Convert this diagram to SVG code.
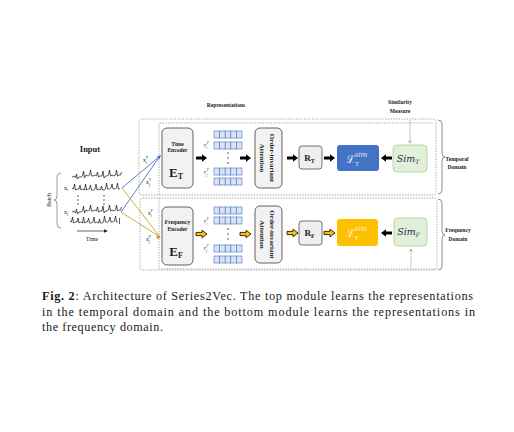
<svg xmlns="http://www.w3.org/2000/svg" width="514" height="432" viewBox="0 0 514 432">
<style>
.dom{fill:none;stroke:#9a9a9a;stroke-width:0.8;stroke-dasharray:1.5,1.2}
.box{fill:#f2f2f2;stroke:#3c3c3c;stroke-width:0.8}
.t{font-family:"Liberation Serif",serif;fill:#222}
.b{font-weight:bold}
.sm{font-size:5.6px}
.cell{fill:#dae3f3;stroke:#4472c4;stroke-width:0.6}
.sig{fill:none;stroke:#111;stroke-width:0.7}
.blue{stroke:#4472c4;stroke-width:0.9;fill:none}
.gold{stroke:#c9a227;stroke-width:0.9;fill:none}
.cap{font-family:"Liberation Serif",serif;font-size:12.2px;fill:#1a1a1a}
</style>
<defs>
<path id="arr" d="M0,-1.6 H6 V-3.8 L11,0 L6,3.8 V1.6 H0 Z"/>
<path id="w1" d="M0,0 l2,-1 1.5,2 1,-4 1,5 1.5,-2 2,0 1.5,-1 1,-5 1,7 1.5,-3 2,1 1.5,-1 1,-5 1,6 1.5,0 2,-1 1.5,1 1,-4 1,5 1.5,-1 2,0 1,-5 1,7 1.5,-2 1.5,0 1.5,-1 1,-5 1,6 1.5,-1 2,1 1.5,-1 1,-5 1,6 1.5,-1 1.5,0 1,-3"/>
<path id="w2" d="M0,0 l1.5,1 1,-5 1,6 2,-1 1.5,0 1,-4 1,5 1.5,-1 2,1 1,-6 1,6 1.5,-1 1.5,0 1,-4 1,5 2,0 1.5,-1 1,-5 1,6 1.5,-1 2,1 1,-4 1,4 1.5,0 1.5,-1 1,-6 1,6 2,0 1.5,-1 1,-4 1,5 1.5,0 2,-1 1,-5 1,6 1.5,0"/>
<marker id="oh" viewBox="0 0 6 6" refX="5" refY="3" markerWidth="5" markerHeight="5" orient="auto"><path d="M0.5,0.5 L5,3 L0.5,5.5" fill="none" stroke="#777" stroke-width="0.9"/></marker>
<g id="row"><rect class="cell" x="0" y="0" width="5.6" height="7"/><rect class="cell" x="5.6" y="0" width="5.6" height="7"/><rect class="cell" x="11.2" y="0" width="5.6" height="7"/><rect class="cell" x="16.8" y="0" width="5.6" height="7"/><rect class="cell" x="22.4" y="0" width="5.6" height="7"/></g>
</defs>
<rect width="514" height="432" fill="#fff"/>

<g id="frames">
<rect class="dom" x="139" y="119" width="297" height="76" rx="3"/>
<path class="dom" d="M159,195 V123 H433"/>
<rect class="dom" x="140" y="198" width="297" height="72" rx="3"/>
<path class="dom" d="M159,198 V269 H437"/>
</g>

<g id="labels-top">
<text class="t b sm" x="226" y="107" text-anchor="middle">Representations</text>
<text class="t b sm" x="400" y="104" text-anchor="middle">Similarity</text>
<text class="t b sm" x="400" y="113" text-anchor="middle">Measure</text>
</g>

<g id="input">
<text class="t b" x="90" y="152" font-size="8.5" text-anchor="middle">Input</text>
<use href="#w1" class="sig" transform="translate(72,177)"/>
<use href="#w2" class="sig" transform="translate(72,188)"/>
<use href="#w1" class="sig" transform="translate(72,212)"/>
<use href="#w2" class="sig" transform="translate(70,221)"/>
<path class="sig" d="M119.5,218 V224"/>
<g fill="#222"><circle cx="78" cy="196" r="0.7"/><circle cx="78" cy="200" r="0.7"/><circle cx="78" cy="204" r="0.7"/><circle cx="104" cy="196" r="0.7"/><circle cx="104" cy="200" r="0.7"/><circle cx="104" cy="204" r="0.7"/></g>
<text class="t" x="64" y="190" font-size="6">x<tspan font-size="4" dy="1">i</tspan></text>
<text class="t" x="64" y="214" font-size="6">x<tspan font-size="4" dy="1">j</tspan></text>
<path d="M61,173 Q57,173 57,177 V196 Q57,200 54,200 Q57,200 57,204 V224 Q57,228 61,228" fill="none" stroke="#555" stroke-width="0.6"/>
<text class="t" transform="translate(51,200) rotate(-90)" font-size="6" fill="#444" text-anchor="middle">Batch</text>
<path d="M77,231 H106" stroke="#222" stroke-width="0.7"/>
<path d="M104,229.3 L108,231 L104,232.7 Z" fill="#222"/>
<text class="t" x="92" y="241" font-size="6" text-anchor="middle">Time</text>
</g>

<g id="connectors">
<path class="blue" d="M122,188 L160,156 M121,212 L160,156"/>
<path d="M157,156.5 L161,155 L159.5,159 Z" fill="#4472c4"/>
<path class="gold" d="M122,188 L160,237 M121,212 L160,237"/>
<path d="M156.5,235 L161,237.5 L157,239 Z" fill="#c9a227"/>
<text class="t" x="143" y="162" font-size="5.5">x<tspan font-size="3.8" dy="1.5">i</tspan><tspan font-size="3.8" dx="-1" dy="-4.5">T</tspan></text>
<text class="t" x="146" y="184" font-size="5.5">x<tspan font-size="3.8" dy="1.5">j</tspan><tspan font-size="3.8" dx="-1" dy="-4.5">T</tspan></text>
<text class="t" x="148" y="215" font-size="5.5">x<tspan font-size="3.8" dy="1.5">i</tspan><tspan font-size="3.8" dx="-1" dy="-4.5">F</tspan></text>
<text class="t" x="146" y="241" font-size="5.5">x<tspan font-size="3.8" dy="1.5">j</tspan><tspan font-size="3.8" dx="-1" dy="-4.5">F</tspan></text>
<use href="#arr" transform="translate(196,158)" fill="#000"/>
<use href="#arr" transform="translate(240,158)" fill="#000"/>
<use href="#arr" transform="translate(287,158)" fill="#000"/>
<use href="#arr" transform="translate(324,158)" fill="#000"/>
<use href="#arr" transform="translate(392,158) scale(-1,1)" fill="#000"/>
<use href="#arr" transform="translate(196,234)" fill="#ffc000" stroke="#000" stroke-width="0.8"/>
<use href="#arr" transform="translate(240,234)" fill="#ffc000" stroke="#000" stroke-width="0.8"/>
<use href="#arr" transform="translate(287,233)" fill="#ffc000" stroke="#000" stroke-width="0.8"/>
<use href="#arr" transform="translate(324,233)" fill="#ffc000" stroke="#000" stroke-width="0.8"/>
<use href="#arr" transform="translate(392,233) scale(-1,1)" fill="#000"/>
<path d="M410,120 V143" stroke="#777" stroke-width="0.7" stroke-dasharray="1.2,1" fill="none" marker-end="url(#oh)"/>
<path d="M411,268 V249" stroke="#777" stroke-width="0.7" stroke-dasharray="1.2,1" fill="none" marker-end="url(#oh)"/>
</g>

<g id="enc-t">
<rect class="box" x="162" y="128" width="31" height="60" rx="5"/>
<text class="t b sm" x="177.5" y="145.5" text-anchor="middle">Time</text>
<text class="t b sm" x="177.5" y="151.5" text-anchor="middle">Encoder</text>
<text class="t b" x="176" y="177" font-size="13" text-anchor="middle">E<tspan font-size="8" dy="2">T</tspan></text>
</g>
<g id="enc-f">
<rect class="box" x="162" y="207" width="31" height="58" rx="5"/>
<text class="t b sm" x="177.5" y="224" text-anchor="middle">Frequency</text>
<text class="t b sm" x="177.5" y="230.5" text-anchor="middle">Encoder</text>
<text class="t b" x="176" y="256" font-size="13" text-anchor="middle">E<tspan font-size="8" dy="2">F</tspan></text>
</g>

<g id="reps-t">
<use href="#row" x="214" y="131"/>
<use href="#row" x="214" y="142"/>
<use href="#row" x="214" y="168"/>
<use href="#row" x="214" y="178"/>
<g fill="#222"><circle cx="228" cy="153" r="0.7"/><circle cx="228" cy="158" r="0.7"/><circle cx="228" cy="163" r="0.7"/></g>
<text class="t" x="204" y="147" font-size="6" font-style="italic">r<tspan font-size="4" dy="1.5" fill="#c55a11">i</tspan><tspan font-size="4" dx="-1" dy="-4.5" fill="#2f5597">T</tspan></text>
<text class="t" x="204" y="174" font-size="6" font-style="italic">r<tspan font-size="4" dy="1.5" fill="#c55a11">j</tspan><tspan font-size="4" dx="-1" dy="-4.5" fill="#2f5597">T</tspan></text>
</g>
<g id="reps-f">
<use href="#row" x="214" y="207"/>
<use href="#row" x="214" y="217"/>
<use href="#row" x="214" y="245"/>
<use href="#row" x="214" y="256"/>
<g fill="#222"><circle cx="228" cy="229" r="0.7"/><circle cx="228" cy="234" r="0.7"/><circle cx="228" cy="239" r="0.7"/></g>
<text class="t" x="204" y="223" font-size="6" font-style="italic">r<tspan font-size="4" dy="1.5" fill="#c55a11">i</tspan><tspan font-size="4" dx="-1" dy="-4.5" fill="#2f5597">F</tspan></text>
<text class="t" x="204" y="250" font-size="6" font-style="italic">r<tspan font-size="4" dy="1.5" fill="#c55a11">j</tspan><tspan font-size="4" dx="-1" dy="-4.5" fill="#2f5597">F</tspan></text>
</g>

<g id="attn-t">
<rect class="box" x="255" y="128" width="27" height="60" rx="5"/>
<g transform="translate(268.5,158) rotate(90)">
<text class="t b" x="0" y="-1" font-size="7" text-anchor="middle">Order-invariant</text>
<text class="t b" x="0" y="9" font-size="7" text-anchor="middle">Attention</text>
</g>
</g>
<g id="attn-f">
<rect class="box" x="255" y="206" width="27" height="57" rx="5"/>
<g transform="translate(268.5,234.5) rotate(90)">
<text class="t b" x="0" y="-1" font-size="7" text-anchor="middle" fill="#b06010">Order-invariant</text>
<text class="t b" x="0" y="9" font-size="7" text-anchor="middle">Attention</text>
</g>
</g>

<g id="r-t">
<rect x="299" y="146" width="23" height="23" rx="3" fill="#efefef" stroke="#505050" stroke-width="0.8"/>
<text class="t b" x="309.5" y="161" font-size="9" text-anchor="middle">R<tspan font-size="6" dy="2">T</tspan></text>
</g>
<g id="r-f">
<rect x="299" y="221" width="23" height="24" rx="3" fill="#efefef" stroke="#505050" stroke-width="0.8"/>
<text class="t b" x="309.5" y="236" font-size="9" text-anchor="middle">R<tspan font-size="6" dy="2">F</tspan></text>
</g>

<g id="loss-t">
<rect x="337" y="145" width="42" height="26" rx="3" fill="#4472c4"/>
<text x="346" y="163" font-family="DejaVu Serif, serif" font-size="11" fill="#e3ebf8">ℒ<tspan font-size="6.5" dy="3" font-family="Liberation Serif, serif">T</tspan><tspan font-size="7" dx="-4" dy="-9.5" font-style="italic" font-family="DejaVu Serif, serif">sim</tspan></text>
</g>
<g id="loss-f">
<rect x="337" y="219" width="41" height="27" rx="3" fill="#ffc000"/>
<text x="346" y="237" font-family="DejaVu Serif, serif" font-size="11" fill="#fff5d6">ℒ<tspan font-size="6.5" dy="3" font-family="Liberation Serif, serif">F</tspan><tspan font-size="7" dx="-4" dy="-9.5" font-style="italic" font-family="DejaVu Serif, serif">sim</tspan></text>
</g>

<g id="sim-t">
<rect x="393" y="145" width="34" height="27" rx="4" fill="#e2efda" stroke="#a9d18e" stroke-width="0.8"/>
<text x="408" y="162" font-family="DejaVu Serif, serif" font-style="italic" font-size="9.5" fill="#1f2d3a" text-anchor="middle">Sim<tspan font-size="6" dy="2">T</tspan></text>
</g>
<g id="sim-f">
<rect x="394" y="218" width="33" height="28" rx="4" fill="#e2efda" stroke="#a9d18e" stroke-width="0.8"/>
<text x="408.5" y="235" font-family="DejaVu Serif, serif" font-style="italic" font-size="9.5" fill="#1f2d3a" text-anchor="middle">Sim<tspan font-size="6" dy="2">F</tspan></text>
</g>

<g id="domains">
<path d="M438,120 Q442,120 442,124 V153 Q442,157 445,157 Q442,157 442,161 V190 Q442,194 438,194" fill="none" stroke="#444" stroke-width="0.6"/>
<text class="t b sm" x="457" y="161" text-anchor="middle">Temporal</text>
<text class="t b sm" x="457" y="169" text-anchor="middle">Domain</text>
<path d="M438,199 Q442,199 442,203 V231 Q442,235 445,235 Q442,235 442,239 V266 Q442,270 438,270" fill="none" stroke="#444" stroke-width="0.6"/>
<text class="t b sm" x="458" y="232" text-anchor="middle">Frequency</text>
<text class="t b sm" x="458" y="241" text-anchor="middle">Domain</text>
</g>

<g id="caption">
<text class="cap" x="42" y="300" textLength="431" lengthAdjust="spacing"><tspan font-weight="bold">Fig. 2</tspan>: Architecture of Series2Vec. The top module learns the representations</text>
<text class="cap" x="42" y="316" textLength="433" lengthAdjust="spacing">in the temporal domain and the bottom module learns the representations in</text>
<text class="cap" x="42" y="331" textLength="121" lengthAdjust="spacing">the frequency domain.</text>
</g>
</svg>
